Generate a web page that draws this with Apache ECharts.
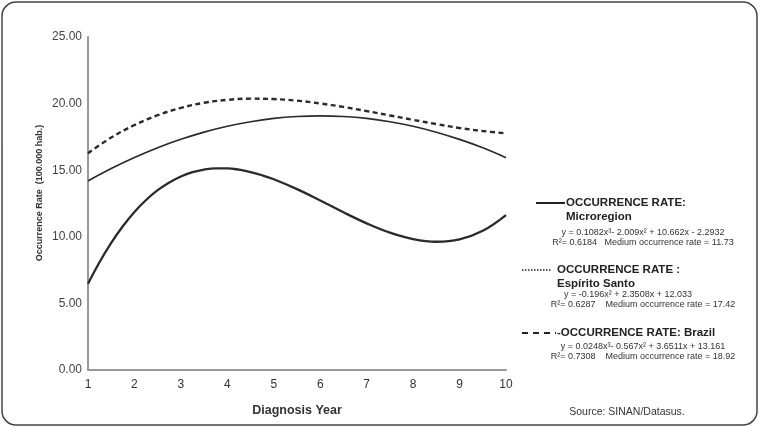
<!DOCTYPE html>
<html><head><meta charset="utf-8">
<script src="https://cdn.jsdelivr.net/npm/echarts@6/dist/echarts.min.js"></script>
<style>html,body{margin:0;padding:0;background:#fff}#c{width:762px;height:430px}</style>
</head><body><div id="c"></div>
<script>
var years = [1,1.5,2,2.5,3,3.5,4,4.5,5,5.5,6,6.5,7,7.5,8,8.5,9,9.5,10];
var microYears = [1,1.25,1.5,1.75,2,2.25,2.5,2.75,3,3.25,3.5,3.75,4,4.25,4.5,4.75,5,5.5,6,6.5,7,7.5,8,8.5,9,9.5,10];
var microregion = [6.47,8.11,9.55,10.79,11.86,12.76,13.50,14.08,14.53,14.85,15.05,15.14,15.14,15.04,14.86,14.62,14.32,13.58,12.73,11.84,11.01,10.31,9.83,9.63,9.81,10.45,11.63];
var espiritoSanto = [14.19,15.12,15.95,16.69,17.32,17.86,18.30,18.64,18.89,19.03,19.08,19.03,18.89,18.64,18.30,17.85,17.31,16.68,15.94];
var brazil = [16.27,17.45,18.39,19.13,19.68,20.06,20.28,20.37,20.34,20.22,20.01,19.75,19.44,19.11,18.78,18.46,18.17,17.94,17.77];
var yTicks = [0,5,10,15,20,25];

function pairs(xs, v){ return xs.map(function(x,i){ return [x, v[i]]; }); }
var F = 'Liberation Sans, Arial, sans-serif';
var chart = echarts.init(document.getElementById('c'));
var txt = function(x,y,t,o){ return {type:'text', x:x, y:y, style:Object.assign({text:t, fill:'#222', font:'bold 11.5px '+F, textVerticalAlign:'middle'}, o||{})}; };
var ln = function(x1,x2,y,dash,w){ return {type:'line', shape:{x1:x1,y1:y,x2:x2,y2:y}, style:{stroke:'#222', lineWidth:w, lineDash:dash}}; };
var small = {font:'9px '+F, textAlign:'center', fill:'#333'};
chart.setOption({
  animation:false,
  grid:{left:88, right:256, top:37, bottom:60},
  xAxis:{type:'value', min:1, max:10, interval:1,
    axisLine:{lineStyle:{color:'#999', width:2}}, axisTick:{show:false}, splitLine:{show:false},
    axisLabel:{color:'#333', fontSize:12, fontFamily:F, margin:9},
    name:'Diagnosis Year', nameLocation:'middle', nameGap:34,
    nameTextStyle:{color:'#333', fontSize:12.5, fontWeight:'bold', fontFamily:F}},
  yAxis:{type:'value', min:yTicks[0], max:yTicks[yTicks.length-1], interval:5,
    axisLine:{show:true, lineStyle:{color:'#999', width:2}}, axisTick:{show:false}, splitLine:{show:false},
    axisLabel:{color:'#444', fontSize:12, fontFamily:F, margin:6, formatter:function(v){return v.toFixed(2);}}},
  series:[
    {type:'line', name:'Microregion', data:pairs(microYears, microregion), smooth:0.4, showSymbol:false, lineStyle:{color:'#2a2a2a', width:2.3}},
    {type:'line', name:'Espírito Santo', data:pairs(years, espiritoSanto), smooth:0.4, showSymbol:false, lineStyle:{color:'#2a2a2a', width:1.7}},
    {type:'line', name:'Brazil', data:pairs(years, brazil), smooth:0.4, showSymbol:false, lineStyle:{color:'#2a2a2a', width:2.4, type:[5,3.5]}}
  ],
  graphic:[
    {type:'rect', shape:{x:2, y:2, width:755, height:423, r:14}, style:{fill:'none', stroke:'#444', lineWidth:1.5}, silent:true},
    {type:'text', x:40, y:193, rotation:Math.PI/2, style:{text:'Occurrence Rate  (100.000 hab.)', fill:'#333', font:'bold 9px '+F, textAlign:'center', textVerticalAlign:'middle'}},
    ln(536,565,203,null,2),
    txt(566,203,'OCCURRENCE RATE:'),
    txt(566,217,'Microregion'),
    txt(643,233,'y = 0.1082x³- 2.009x² + 10.662x - 2.2932',small),
    txt(643,243,'R²= 0.6184   Medium occurrence rate = 11.73',small),
    ln(522,552,270,[1.5,1.5],1.5),
    txt(557,270,'OCCURRENCE RATE :'),
    txt(557,284,'Espírito Santo'),
    txt(628,295,'y = -0.196x² + 2.3508x + 12.033',small),
    txt(643,305,'R²= 0.6287    Medium occurrence rate = 17.42',small),
    ln(522,556,333,[6,5],2),
    txt(557,333,'-OCCURRENCE RATE: Brazil'),
    txt(643,347,'y = 0.0248x³- 0.567x² + 3.6511x + 13.161',small),
    txt(643,357,'R²= 0.7308    Medium occurrence rate = 18.92',small),
    txt(627,412,'Source: SINAN/Datasus.',{font:'10.5px '+F, textAlign:'center', fill:'#333'})
  ]
});
</script></body></html>
